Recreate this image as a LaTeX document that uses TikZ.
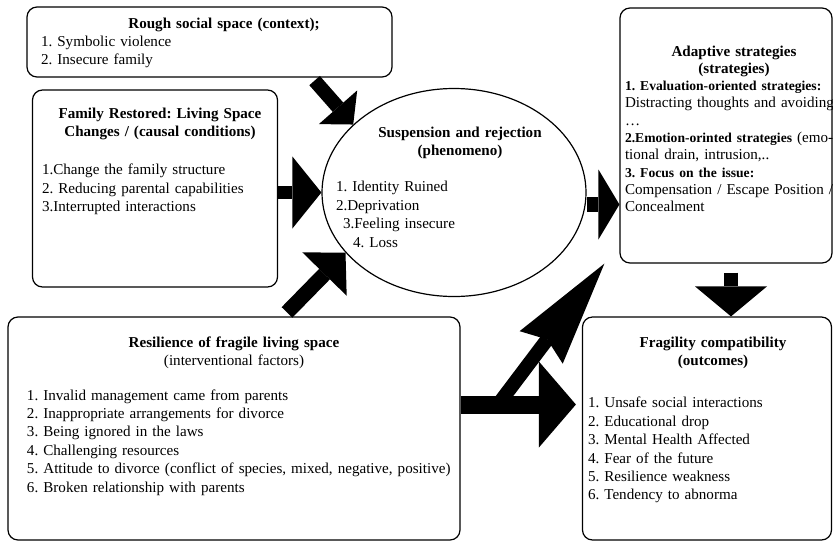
\documentclass[tikz,border=0pt]{standalone}
\usepackage{fontspec}
\setmainfont{Liberation Serif}
\usetikzlibrary{positioning, arrows.meta, shapes.geometric}

\begin{document}
\frenchspacing
\setlength{\parindent}{0pt}
\begin{tikzpicture}[x=1pt, y=-1pt,
        frame/.style={draw, rounded corners=10pt, line width=1.2pt},
        txt/.style={inner sep=0pt, align=left, font=\fontsize{15.1}{18.4}\selectfont},
        bigarrow/.style={line width=14pt, -{Triangle[length=30pt, width=64pt, line width=0pt]}}]

    \useasboundingbox (0,0) rectangle (833,542);

    % boxes
    \node[frame, minimum width=365, minimum height=70]  (rough)  at (209.5,42)  {};
    \node[frame, minimum width=245, minimum height=197] (family) at (155,188.5) {};
    \node[frame, ellipse, minimum width=264, minimum height=208] (susp) at (454,192.5) {};
    \node[frame, minimum width=212, minimum height=255] (adapt)  at (726,135.5) {};
    \node[frame, minimum width=452, minimum height=223] (resil)  at (234,428.5) {};
    \node[frame, minimum width=249, minimum height=223] (frag)   at (707,428.5) {};

    % texts
    \node[txt, text width=366, below=11pt of rough.north, xshift=14.5pt] (roughtxt)
        {{\centering\bfseries Rough social space (context);\par}
        1. Symbolic violence\\ 2. Insecure family};
    \node[txt, text width=236, below=18pt of family.north, xshift=5pt] (familytxt)
        {{\centering\bfseries Family Restored: Living Space\\ Changes / (causal conditions)\par}\vspace{20pt}
        1.Change the family structure\\ 2. Reducing parental capabilities\\ 3.Interrupted interactions};
    \node[txt, text width=248, below=39pt of susp.north, xshift=6pt] (susptxt)
        {{\centering\bfseries Suspension and rejection\\ (phenomeno)\par}\vspace{17.5pt}
        1. Identity Ruined\\ 2.Deprivation\\ \hspace*{7pt}3.Feeling insecure\\ \hspace*{17pt}4. Loss};
    \node[txt, text width=218, below=38pt of adapt.north, xshift=8pt,
          font=\fontsize{15.1}{17.3}\selectfont] (adapttxt)
        {{\centering\bfseries Adaptive strategies\\ (strategies)\par}
        \mbox{\fontsize{13.6}{17.3}\selectfont\bfseries 1. Evaluation-oriented strategies:}\\
        \mbox{Distracting thoughts and avoiding}\\
        …\\
        \mbox{{\fontsize{13.6}{17.3}\selectfont\bfseries 2.Emotion-orinted strategies} (emo-}\\
        tional drain, intrusion,..\\
        \mbox{\fontsize{13.6}{17.3}\selectfont\bfseries 3. Focus on the issue:}\\
        \mbox{Compensation / Escape Position /}\\
        Concealment};
    \node[txt, text width=414, below=20pt of resil.north] (resiltxt)
        {{\centering\textbf{Resilience of fragile living space}\\ (interventional factors)\par}\vspace{16pt}
        1. Invalid management came from parents\\
        2. Inappropriate arrangements for divorce\\
        3. Being ignored in the laws\\
        4. Challenging resources\\
        \mbox{5. Attitude to divorce (conflict of species, mixed, negative, positive)}\\
        6. Broken relationship with parents};
    \node[txt, text width=250, below=20pt of frag.north, xshift=6pt] (fragtxt)
        {{\centering\bfseries Fragility compatibility\\ (outcomes)\par}\vspace{24pt}
        1. Unsafe social interactions\\ 2. Educational drop\\ 3. Mental Health Affected\\
        4. Fear of the future\\ 5. Resilience weakness\\ 6. Tendency to abnorma};

    % arrows
    \coordinate (a1) at ([shift={(-78,3)}]rough.south east);
    \coordinate (d1) at ([yshift=-12pt]susp.east);
    \coordinate (e1) at ([shift={(5,9)}]adapt.south);
    \coordinate (f1) at ([yshift=24pt]resil.east);
    \coordinate (g1) at (500,402);
    \coordinate (g2) at ([xshift=-15pt]adapt.south west);

    \draw[bigarrow, -{Triangle[length=23pt, width=51pt, line width=0pt]}] (a1) -- (susp.146);
    \draw[bigarrow, line width=13pt, -{Triangle[length=29pt, width=72pt, line width=0pt]}]
        (family.east |- susp.west) -- (susp.west);
    \draw[bigarrow, line width=15pt, -{Triangle[length=30pt, width=62pt, line width=0pt]}]
        ([shift={(53,-4)}]resil.north) -- (susp.209);
    \draw[bigarrow, line width=15pt, -{Triangle[length=21pt, width=70pt, line width=0pt]}]
        (d1) -- (d1 -| adapt.west);
    \draw[bigarrow, -{Triangle[length=30pt, width=72pt, line width=0pt]}] (e1) -- (e1 |- frag.north);
    \draw[bigarrow, -{Stealth[length=105pt, width=54pt, inset=10pt, line width=0pt]}] (g1) -- (g2);
    \draw[bigarrow, line width=18pt, -{Triangle[length=37pt, width=86pt, line width=0pt]}, shorten >=6pt]
        (f1) -- (f1 -| frag.west);

\end{tikzpicture}
\end{document}
